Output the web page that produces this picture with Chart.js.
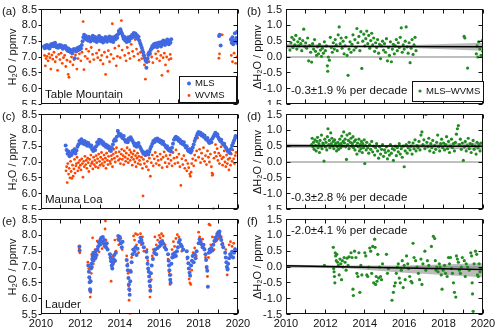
<!DOCTYPE html>
<html><head><meta charset="utf-8">
<script src="https://cdn.jsdelivr.net/npm/chart.js@4.4.1/dist/chart.umd.min.js"></script>
<style>
html,body{margin:0;padding:0;background:#fff;overflow:hidden;}
canvas{position:absolute;}
</style>
</head><body>
<canvas id="pa" width="252" height="105" style="left:0;top:0"></canvas>
<canvas id="pb" width="250" height="105" style="left:245px;top:0"></canvas>
<canvas id="pc" width="252" height="105" style="left:0;top:105px"></canvas>
<canvas id="pd" width="250" height="105" style="left:245px;top:105px"></canvas>
<canvas id="pe" width="252" height="126" style="left:0;top:210px"></canvas>
<canvas id="pf" width="250" height="126" style="left:245px;top:210px"></canvas>
<script>
// ---------- tick values / labels ----------
const xTickYears = [2010,2011,2012,2013,2014,2015,2016,2017,2018,2019,2020];
const xTickLabels = ['2010','2012','2014','2016','2018','2020'];
const h2oTicks = [5.5,6.0,6.5,7.0,7.5,8.0,8.5];
const h2oLabels = ['5.5','6.0','6.5','7.0','7.5','8.0','8.5'];
const diffTicks = [-1.5,-1.0,-0.5,0.0,0.5,1.0,1.5];
const diffLabels = ['-1.5','-1.0','-0.5','0.0','0.5','1.0','1.5'];

// ---------- (a) Table Mountain ----------
const tmMls = [[2010.15,7.33],[2010.19,7.28],[2010.23,7.36],[2010.27,7.31],[2010.31,7.38],[2010.35,7.30],[2010.39,7.35],[2010.43,7.27],[2010.47,7.33],[2010.51,7.40],[2010.55,7.36],[2010.59,7.42],[2010.63,7.34],[2010.67,7.39],[2010.71,7.45],[2010.75,7.37],[2010.79,7.31],[2010.83,7.36],[2010.87,7.29],[2010.91,7.34],[2010.95,7.38],[2010.99,7.32],
[2011.03,7.36],[2011.07,7.30],[2011.11,7.26],[2011.15,7.33],[2011.19,7.29],[2011.23,7.35],[2011.27,7.31],[2011.31,7.24],[2011.35,7.20],[2011.39,7.27],[2011.43,7.18],[2011.47,7.23],[2011.51,7.15],[2011.55,7.21],[2011.59,7.12],[2011.63,7.19],[2011.67,7.25],[2011.71,6.96],[2011.75,7.22],[2011.79,7.17],[2011.83,7.28],[2011.87,7.21],[2011.91,7.30],[2011.95,7.24],[2011.99,7.32],
[2012.03,7.27],[2012.07,7.38],[2012.11,7.50],[2012.15,7.62],[2012.19,7.70],[2012.23,7.58],[2012.27,7.66],[2012.31,7.55],[2012.35,7.61],[2012.39,7.52],[2012.43,7.64],[2012.47,7.57],[2012.51,7.49],[2012.55,7.60],[2012.59,7.54],[2012.63,7.67],[2012.67,7.58],[2012.71,7.51],[2012.75,7.63],[2012.79,7.56],[2012.83,7.47],[2012.87,7.59],[2012.91,7.53],[2012.95,7.66],[2012.99,7.57],
[2013.03,7.50],[2013.07,7.61],[2013.11,7.55],[2013.15,7.46],[2013.19,7.58],[2013.23,7.52],[2013.27,7.63],[2013.31,7.56],[2013.35,7.48],[2013.39,7.60],[2013.43,7.54],[2013.47,7.65],[2013.51,7.57],[2013.55,7.50],[2013.59,7.62],[2013.63,7.55],[2013.67,7.47],[2013.71,7.58],[2013.75,7.64],[2013.79,7.56],[2013.83,7.68],[2013.87,7.61],[2013.91,7.72],[2013.95,7.82],[2013.99,7.76],
[2014.03,7.88],[2014.07,7.80],[2014.11,7.74],[2014.15,7.66],[2014.19,7.58],[2014.23,7.64],[2014.27,7.52],[2014.31,7.59],[2014.35,7.47],[2014.39,7.55],[2014.43,7.62],[2014.47,7.50],[2014.51,7.57],[2014.55,7.65],[2014.59,7.60],[2014.63,7.70],[2014.67,7.63],[2014.71,7.76],[2014.75,7.68],[2014.79,7.74],[2014.83,7.62],[2014.87,7.69],[2014.91,7.58],[2014.95,7.64],[2014.99,7.52],
[2015.03,7.44],[2015.07,7.38],[2015.11,7.30],[2015.15,7.22],[2015.19,7.14],[2015.23,7.05],[2015.27,6.96],[2015.31,6.88],[2015.35,6.66],[2015.37,6.84],[2015.41,6.95],[2015.45,7.06],[2015.49,7.15],[2015.53,7.10],[2015.57,7.22],[2015.61,7.28],[2015.65,7.35],[2015.69,7.30],[2015.73,7.40],[2015.77,7.34],[2015.81,7.43],[2015.85,7.37],[2015.89,7.31],[2015.93,7.44],[2015.97,7.38],
[2016.01,7.46],[2016.05,7.40],[2016.09,7.33],[2016.13,7.47],[2016.17,7.41],[2016.21,7.52],[2016.25,7.45],[2016.29,7.38],[2016.33,7.49],[2016.37,7.43],[2016.41,7.55],[2016.45,7.47],[2016.49,7.40],[2016.53,7.51],[2016.57,7.45],[2016.61,7.56],
[2019.04,7.66],[2019.07,7.70],[2019.12,7.36],[2019.64,7.55],[2019.68,7.45],[2019.72,7.62],[2019.76,7.40],[2019.80,7.52],[2019.84,7.75],[2019.88,7.48],[2019.92,7.60],[2019.96,7.80],[2019.99,7.43]];

const tmWvms = [[2010.18,7.05],[2010.22,6.72],[2010.26,6.95],[2010.30,7.02],[2010.36,6.88],[2010.40,7.10],[2010.45,6.98],[2010.50,6.62],[2010.55,7.06],[2010.60,6.93],[2010.66,7.15],[2010.72,6.85],[2010.78,7.00],[2010.84,6.58],[2010.90,7.08],[2010.96,6.92],
[2011.02,7.12],[2011.08,6.80],[2011.14,6.98],[2011.20,7.05],[2011.26,6.70],[2011.32,6.90],[2011.38,6.45],[2011.42,6.36],[2011.48,6.85],[2011.55,7.00],[2011.62,6.75],[2011.68,6.92],[2011.75,7.06],[2011.82,6.62],[2011.88,6.95],[2011.95,7.10],
[2012.02,6.88],[2012.08,7.15],[2012.14,8.12],[2012.18,6.60],[2012.24,7.02],[2012.30,7.25],[2012.36,6.95],[2012.42,7.18],[2012.48,6.85],[2012.55,7.30],[2012.62,7.08],[2012.68,6.92],[2012.75,7.50],[2012.82,7.12],[2012.88,6.98],[2012.95,7.22],
[2013.02,6.90],[2013.08,7.05],[2013.15,6.78],[2013.22,7.15],[2013.28,6.45],[2013.35,7.00],[2013.42,7.20],[2013.48,6.85],[2013.55,7.08],[2013.62,8.05],[2013.68,6.95],[2013.75,7.28],[2013.82,6.72],[2013.88,7.02],[2013.95,7.35],
[2014.02,6.98],[2014.08,8.15],[2014.12,7.22],[2014.18,7.65],[2014.25,7.05],[2014.32,6.88],[2014.38,7.30],[2014.45,7.12],[2014.52,6.95],[2014.58,7.40],[2014.65,7.18],[2014.72,7.02],[2014.78,7.55],[2014.85,7.25],[2014.92,7.10],[2014.98,6.90],
[2015.05,7.15],[2015.12,6.95],[2015.18,7.05],[2015.25,6.75],[2015.30,6.30],[2015.36,6.92],[2015.42,7.10],[2015.48,6.85],[2015.55,7.22],[2015.62,7.00],[2015.68,6.82],[2015.75,7.40],[2015.82,7.10],[2015.88,6.95],[2015.95,7.18],
[2016.02,6.88],[2016.08,7.05],[2016.14,6.42],[2016.20,6.98],[2016.26,7.12],[2016.32,6.75],[2016.38,7.00],[2016.44,6.55],[2016.50,6.92],[2016.56,7.08],[2016.60,6.95],
[2019.03,6.96],[2019.06,7.10],[2019.20,7.70],[2019.66,7.05],[2019.72,6.85],[2019.80,7.12],[2019.88,6.80],[2019.95,7.00]];

// ---------- (b) Table Mountain difference ----------
const tmDiff = [[2010.20,0.22],[2010.25,0.45],[2010.30,0.62],[2010.35,0.30],[2010.40,0.55],[2010.45,0.38],[2010.50,0.68],[2010.55,0.25],[2010.60,0.48],[2010.65,0.35],[2010.70,0.58],[2010.75,0.42],[2010.80,0.20],[2010.85,0.52],[2010.90,0.88],[2010.95,0.33],
[2011.00,0.45],[2011.05,0.28],[2011.10,0.60],[2011.15,-0.12],[2011.20,0.36],[2011.25,0.15],[2011.30,-0.16],[2011.35,0.42],[2011.40,0.25],[2011.45,0.55],[2011.50,0.18],[2011.55,0.05],[2011.60,0.32],[2011.65,0.10],[2011.70,0.40],[2011.75,0.22],[2011.80,0.02],[2011.85,0.28],[2011.90,0.12],[2011.95,0.48],
[2012.00,0.20],[2012.05,0.35],[2012.10,-0.28],[2012.12,-0.45],[2012.15,0.00],[2012.20,-0.10],[2012.25,0.62],[2012.30,0.30],[2012.35,0.15],[2012.40,0.45],[2012.45,0.25],[2012.50,0.55],[2012.55,0.38],[2012.60,0.20],[2012.65,0.70],[2012.70,0.95],[2012.75,0.42],[2012.80,0.60],[2012.85,0.28],[2012.90,0.50],[2012.95,0.10],
[2013.00,0.35],[2013.05,0.62],[2013.10,0.05],[2013.15,-0.58],[2013.20,0.25],[2013.25,0.48],[2013.30,0.15],[2013.35,0.40],[2013.40,0.70],[2013.45,0.22],[2013.50,0.55],[2013.55,0.30],[2013.60,0.90],[2013.65,0.45],[2013.70,0.65],[2013.75,0.20],[2013.80,0.80],[2013.85,-0.36],[2013.90,0.50],[2013.95,0.72],
[2014.00,0.35],[2014.05,0.58],[2014.10,0.82],[2014.15,0.42],[2014.20,0.68],[2014.25,0.28],[2014.30,0.52],[2014.35,0.75],[2014.40,0.38],[2014.45,0.60],[2014.50,0.18],[2014.55,0.45],[2014.60,0.30],[2014.65,0.55],[2014.70,0.12],[2014.75,0.40],[2014.80,-0.05],[2014.85,0.35],[2014.90,0.50],[2014.95,0.22],
[2015.00,0.42],[2015.05,0.15],[2015.10,0.58],[2015.15,-0.12],[2015.20,0.30],[2015.25,0.05],[2015.30,0.48],[2015.35,-0.15],[2015.40,0.25],[2015.45,0.40],[2015.50,0.10],[2015.55,0.35],[2015.60,0.55],[2015.65,0.20],[2015.70,0.45],[2015.75,0.30],[2015.80,0.62],[2015.85,0.92],[2015.90,0.15],[2015.95,0.38],
[2016.00,0.25],[2016.05,0.50],[2016.10,0.95],[2016.15,0.32],[2016.20,0.12],[2016.25,0.45],[2016.30,-0.18],[2016.35,0.28],[2016.40,0.55],[2016.45,0.08],[2016.50,0.38],[2016.55,0.62],[2016.60,0.20],
[2019.04,0.65],[2019.08,0.60],[2019.22,-0.35],[2019.66,0.10],[2019.70,0.35],[2019.74,0.00],[2019.78,0.48],[2019.84,0.25],[2019.90,0.05],[2019.96,0.52],[2019.99,0.18]];
const tmTrend = [[2010,0.34],[2020,0.32]];
const tmBandHi = [[2010,0.42],[2013.5,0.36],[2016,0.37],[2020,0.45]];
const tmBandLo = [[2010,0.26],[2013.5,0.31],[2016,0.29],[2020,0.20]];

// ---------- (c) Mauna Loa ----------
const mlMls = [[2011.25,7.52],[2011.30,7.38],[2011.35,7.26],[2011.40,7.33],[2011.45,7.18],[2011.50,7.26],[2011.55,7.22],[2011.60,7.35],[2011.65,7.30],[2011.70,7.40],[2011.75,7.27],[2011.80,7.36],[2011.85,7.48],[2011.90,7.55],[2011.95,7.66],
[2012.00,7.60],[2012.05,7.72],[2012.10,7.63],[2012.15,7.58],[2012.20,7.66],[2012.25,7.55],[2012.30,7.62],[2012.35,7.51],[2012.40,7.60],[2012.45,7.54],[2012.50,7.48],[2012.55,7.52],[2012.60,7.40],[2012.65,7.35],[2012.70,7.44],[2012.75,7.38],[2012.80,7.50],[2012.85,7.62],[2012.90,7.57],[2012.95,7.70],
[2013.00,7.64],[2013.05,7.68],[2013.10,7.58],[2013.15,7.62],[2013.20,7.52],[2013.25,7.56],[2013.30,7.47],[2013.35,7.53],[2013.40,7.44],[2013.45,7.49],[2013.50,7.40],[2013.55,7.35],[2013.60,7.44],[2013.65,7.55],[2013.70,7.66],[2013.75,7.72],[2013.80,7.68],[2013.85,7.80],[2013.90,7.98],[2013.95,7.90],
[2014.00,7.84],[2014.05,7.88],[2014.10,7.80],[2014.15,7.75],[2014.20,7.82],[2014.25,7.70],[2014.30,7.64],[2014.35,7.68],[2014.40,7.62],[2014.45,7.74],[2014.50,7.70],[2014.55,7.78],[2014.60,7.72],[2014.65,7.66],[2014.70,7.60],[2014.75,7.52],[2014.80,7.58],[2014.85,7.48],[2014.90,7.55],[2014.95,7.60],
[2015.00,7.50],[2015.05,7.44],[2015.10,7.38],[2015.15,7.32],[2015.20,7.26],[2015.25,7.30],[2015.30,7.22],[2015.35,7.28],[2015.40,7.34],[2015.45,7.24],[2015.50,7.32],[2015.55,7.42],[2015.60,7.50],[2015.65,7.58],[2015.70,7.66],[2015.75,7.62],[2015.80,7.72],[2015.85,7.68],[2015.90,7.74],[2015.95,7.66],
[2016.00,7.70],[2016.05,7.62],[2016.10,7.67],[2016.15,7.58],[2016.20,7.64],[2016.25,7.55],[2016.30,7.52],[2016.35,7.46],[2016.40,7.50],[2016.45,7.40],[2016.50,7.36],[2016.55,7.42],[2016.60,7.33],[2016.65,7.45],[2016.70,7.58],[2016.75,7.70],[2016.80,7.76],[2016.85,7.80],[2016.90,7.72],[2016.95,7.76],
[2017.00,7.66],[2017.05,7.70],[2017.10,7.60],[2017.15,7.64],[2017.20,7.56],[2017.25,7.62],[2017.30,7.52],[2017.35,7.46],[2017.40,7.50],[2017.45,7.38],[2017.50,7.34],[2017.55,7.40],[2017.60,7.30],[2017.65,7.36],[2017.70,7.46],[2017.75,7.55],[2017.80,7.66],[2017.85,7.74],[2017.90,7.82],[2017.95,7.90],
[2018.00,7.95],[2018.05,7.88],[2018.10,7.92],[2018.15,7.84],[2018.20,7.88],[2018.25,7.80],[2018.30,7.84],[2018.35,7.74],[2018.40,7.70],[2018.45,7.76],[2018.50,7.64],[2018.55,7.60],[2018.60,7.68],[2018.65,7.62],[2018.70,7.74],[2018.75,7.80],[2018.80,7.86],[2018.85,7.92],[2018.90,7.84],[2018.95,7.88],
[2019.00,7.78],[2019.05,7.72],[2019.10,7.66],[2019.15,7.70],[2019.20,7.60],[2019.25,7.55],[2019.30,7.58],[2019.35,7.48],[2019.40,7.44],[2019.45,7.38],[2019.50,7.32],[2019.55,7.36],[2019.60,7.28],[2019.65,7.42],[2019.70,7.52],[2019.75,7.60],[2019.80,7.68],[2019.85,7.76],[2019.88,7.82]];

const mlWvms = [[2011.27,6.72],[2011.30,6.85],[2011.33,6.35],[2011.36,6.95],[2011.40,6.62],[2011.43,6.80],[2011.47,6.50],[2011.50,7.02],[2011.53,6.70],[2011.57,6.48],[2011.60,6.90],[2011.63,6.55],[2011.67,6.78],[2011.70,7.08],[2011.73,6.65],[2011.77,6.88],[2011.80,6.95],[2011.83,7.15],[2011.87,6.72],[2011.90,6.98],[2011.93,6.82],[2011.97,7.05],
[2012.00,6.90],[2012.03,6.75],[2012.07,7.10],[2012.10,6.95],[2012.13,6.52],[2012.17,7.02],[2012.20,6.85],[2012.23,7.18],[2012.27,6.92],[2012.30,7.05],[2012.33,6.80],[2012.37,7.12],[2012.40,6.98],[2012.43,6.70],[2012.47,7.08],[2012.50,6.88],[2012.53,7.22],[2012.57,6.95],[2012.60,7.00],[2012.63,6.78],[2012.67,7.15],[2012.70,6.92],[2012.73,7.05],[2012.77,6.85],[2012.80,7.20],[2012.83,6.98],[2012.87,7.10],[2012.90,6.82],[2012.93,7.25],[2012.97,7.02],
[2013.00,6.90],[2013.03,7.15],[2013.07,7.30],[2013.10,6.95],[2013.13,7.08],[2013.17,6.88],[2013.20,7.22],[2013.23,7.00],[2013.27,7.12],[2013.30,6.80],[2013.33,7.28],[2013.37,7.05],[2013.40,6.92],[2013.43,7.18],[2013.47,7.35],[2013.50,7.02],[2013.53,6.95],[2013.57,7.20],[2013.60,7.08],[2013.63,6.85],[2013.67,7.25],[2013.70,7.40],[2013.73,7.12],[2013.77,7.00],[2013.80,7.30],[2013.83,7.45],[2013.87,7.18],[2013.90,8.00],[2013.93,7.05],[2013.97,7.32],
[2014.00,7.10],[2014.03,6.95],[2014.07,7.25],[2014.10,7.40],[2014.13,7.08],[2014.17,7.20],[2014.20,6.92],[2014.23,7.35],[2014.27,7.15],[2014.30,7.02],[2014.33,7.28],[2014.37,7.45],[2014.40,7.10],[2014.43,6.98],[2014.47,7.22],[2014.50,7.38],[2014.53,7.05],[2014.57,7.30],[2014.60,7.15],[2014.63,6.90],[2014.67,7.25],[2014.70,7.08],[2014.73,7.35],[2014.77,7.00],[2014.80,7.20],[2014.83,6.85],[2014.87,7.12],[2014.90,7.28],[2014.93,6.95],[2014.97,7.18],
[2015.00,7.05],[2015.05,6.92],[2015.10,7.15],[2015.15,6.80],[2015.18,5.93],[2015.20,7.08],[2015.25,6.95],[2015.30,7.20],[2015.35,6.85],[2015.40,7.02],[2015.45,6.75],[2015.50,7.12],[2015.55,6.55],[2015.60,6.98],[2015.65,7.22],[2015.70,6.88],[2015.75,7.10],[2015.80,7.30],[2015.85,6.95],[2015.90,7.18],[2015.95,7.05],
[2016.00,6.90],[2016.05,7.25],[2016.10,7.08],[2016.15,6.82],[2016.20,7.15],[2016.25,7.32],[2016.30,6.98],[2016.35,7.20],[2016.40,6.85],[2016.45,7.10],[2016.50,6.95],[2016.55,7.22],[2016.60,7.05],[2016.65,6.88],[2016.70,7.30],[2016.75,7.12],[2016.80,6.95],[2016.85,7.38],[2016.90,7.15],[2016.95,6.98],
[2017.00,7.25],[2017.05,6.85],[2017.10,6.26],[2017.15,7.10],[2017.20,6.92],[2017.25,7.20],[2017.30,6.80],[2017.35,7.05],[2017.40,6.72],[2017.45,6.95],[2017.50,6.82],[2017.55,6.62],[2017.58,6.55],[2017.62,6.68],[2017.65,6.95],[2017.70,7.10],[2017.75,6.88],[2017.80,7.22],[2017.85,7.05],[2017.90,7.35],[2017.95,7.76],
[2018.00,7.15],[2018.05,7.40],[2018.10,6.98],[2018.15,7.28],[2018.20,7.10],[2018.25,7.45],[2018.30,7.02],[2018.35,7.20],[2018.40,6.92],[2018.45,7.35],[2018.50,7.15],[2018.55,7.00],[2018.60,7.25],[2018.65,6.85],[2018.68,6.65],[2018.70,6.58],[2018.72,6.62],[2018.75,5.52],[2018.78,7.12],[2018.82,7.30],[2018.86,7.55],[2018.90,7.18],[2018.94,7.42],[2018.98,7.05],
[2019.02,7.28],[2019.06,6.95],[2019.10,7.20],[2019.14,7.48],[2019.18,7.10],[2019.22,6.90],[2019.26,7.15],[2019.30,7.35],[2019.34,7.00],[2019.38,6.85],[2019.42,7.22],[2019.46,6.95],[2019.50,7.08],[2019.54,6.75],[2019.58,7.12],[2019.62,6.90],[2019.66,7.25],[2019.70,7.02],[2019.74,7.38],[2019.78,7.10],[2019.82,6.95],[2019.86,7.20],[2019.90,7.30]];

// ---------- (d) Mauna Loa difference ----------
const mlDiff = [[2011.30,0.55],[2011.33,0.75],[2011.37,0.48],[2011.40,0.62],[2011.43,0.40],[2011.47,0.70],[2011.50,0.52],[2011.53,0.35],[2011.57,0.65],[2011.60,0.78],[2011.63,0.45],[2011.67,0.58],[2011.70,0.30],[2011.73,0.68],[2011.77,0.50],[2011.80,0.85],[2011.83,0.42],[2011.87,0.60],[2011.90,0.55],[2011.93,0.03],[2011.97,0.72],
[2012.00,0.48],[2012.03,0.62],[2012.07,0.38],[2012.10,0.80],[2012.13,1.05],[2012.17,0.55],[2012.20,0.68],[2012.23,0.45],[2012.27,0.92],[2012.30,0.58],[2012.33,0.75],[2012.37,0.50],[2012.40,0.65],[2012.43,0.42],[2012.47,0.70],[2012.50,0.55],[2012.53,0.60],[2012.57,0.35],[2012.60,0.48],[2012.63,0.62],[2012.67,0.40],[2012.70,0.55],[2012.73,0.72],[2012.77,0.45],[2012.80,0.58],[2012.83,0.82],[2012.87,0.50],[2012.90,0.65],[2012.93,0.95],[2012.97,0.60],
[2013.00,0.72],[2013.03,0.48],[2013.07,0.08],[2013.10,0.85],[2013.13,0.55],[2013.17,0.68],[2013.20,0.42],[2013.23,0.90],[2013.27,0.62],[2013.30,0.75],[2013.33,0.50],[2013.37,0.58],[2013.40,0.80],[2013.43,0.45],[2013.47,0.65],[2013.50,0.38],[2013.53,0.70],[2013.57,0.52],[2013.60,0.25],[2013.63,0.60],[2013.67,0.48],[2013.70,0.72],[2013.73,0.35],[2013.77,0.55],[2013.80,0.42],[2013.83,0.65],[2013.87,0.30],[2013.90,0.58],[2013.93,0.45],[2013.97,0.70],
[2014.00,-0.05],[2014.03,0.52],[2014.07,0.38],[2014.10,0.62],[2014.15,0.45],[2014.20,0.28],[2014.25,0.55],[2014.30,0.40],[2014.35,0.65],[2014.40,0.32],[2014.45,0.50],[2014.50,0.22],[2014.55,0.45],[2014.60,0.58],[2014.65,0.35],[2014.70,0.12],[2014.75,0.48],[2014.80,0.25],[2014.85,0.40],[2014.90,0.55],[2014.95,0.18],
[2015.00,0.38],[2015.05,0.30],[2015.10,0.48],[2015.15,0.10],[2015.20,0.35],[2015.25,0.22],[2015.30,0.55],[2015.35,0.28],[2015.40,0.42],[2015.45,0.05],[2015.50,0.38],[2015.55,0.50],[2015.60,0.20],[2015.65,0.45],[2015.70,0.32],[2015.75,0.58],[2015.80,0.25],[2015.85,0.42],[2015.90,0.15],[2015.95,0.50],
[2016.00,-0.15],[2016.05,0.35],[2016.10,0.55],[2016.15,0.28],[2016.20,0.45],[2016.25,0.62],[2016.30,0.38],[2016.35,0.50],[2016.40,0.25],[2016.45,0.60],[2016.50,0.42],[2016.55,0.70],[2016.60,0.35],[2016.65,0.52],[2016.70,0.45],[2016.75,0.65],[2016.80,0.38],[2016.85,0.85],[2016.90,0.95],[2016.95,0.55],
[2017.00,0.70],[2017.05,0.42],[2017.10,1.50],[2017.15,0.62],[2017.20,0.48],[2017.25,0.75],[2017.30,0.35],[2017.35,0.58],[2017.40,0.45],[2017.45,0.68],[2017.50,0.30],[2017.55,0.52],[2017.60,0.40],[2017.65,0.62],[2017.70,0.85],[2017.75,0.48],[2017.80,0.35],[2017.85,0.58],[2017.90,0.72],[2017.95,0.45],
[2018.00,0.60],[2018.05,0.38],[2018.10,0.55],[2018.15,0.80],[2018.20,0.42],[2018.25,0.65],[2018.30,0.30],[2018.35,0.50],[2018.40,0.72],[2018.45,0.45],[2018.50,0.58],[2018.55,0.35],[2018.60,0.62],[2018.65,0.88],[2018.70,1.05],[2018.75,1.15],[2018.80,0.55],[2018.85,0.72],[2018.90,0.40],[2018.95,0.60],
[2019.00,0.05],[2019.05,0.48],[2019.10,0.65],[2019.15,0.35],[2019.20,0.52],[2019.25,0.75],[2019.30,0.42],[2019.35,0.58],[2019.40,0.30],[2019.45,0.55],[2019.50,0.68],[2019.55,0.40],[2019.60,0.50],[2019.65,0.25],[2019.70,0.62],[2019.75,0.45],[2019.80,0.55],[2019.85,0.35],[2019.90,0.60]];
const mlTrend = [[2010,0.51],[2020,0.50]];
const mlBandHi = [[2010,0.58],[2015,0.53],[2020,0.62]];
const mlBandLo = [[2010,0.44],[2015,0.47],[2020,0.39]];

// ---------- (e) Lauder ----------
const ldMls = [[2011.95,7.65],[2011.96,7.52],
[2012.40,7.05],[2012.43,6.85],[2012.45,6.68],[2012.47,6.52],[2012.49,6.30],[2012.50,6.25],[2012.52,6.55],[2012.54,6.95],[2012.56,7.10],[2012.58,7.00],[2012.60,7.25],[2012.62,7.35],[2012.64,7.20],[2012.66,7.45],[2012.69,7.30],[2012.72,7.40],[2012.75,7.28],[2012.78,7.50],[2012.82,7.38],[2012.86,7.55],[2012.90,7.65],[2012.94,7.78],[2012.98,7.70],[2013.02,7.85],[2013.06,7.92],[2013.10,7.80],[2013.14,7.95],[2013.18,7.75],[2013.22,7.85],[2013.26,7.68],[2013.30,7.62],[2013.34,7.75],[2013.38,7.55],
[2013.50,7.40],[2013.53,7.30],[2013.56,7.18],[2013.59,7.05],[2013.62,6.95],[2013.65,7.10],[2013.68,7.25],[2013.72,7.38],[2013.76,7.20],[2013.80,7.45],
[2013.92,7.98],[2013.96,7.85],[2014.00,7.95],[2014.05,7.75],[2014.10,7.62],[2014.14,7.80],
[2014.35,7.22],[2014.38,7.05],[2014.41,6.90],[2014.44,6.65],[2014.46,6.45],[2014.48,6.30],[2014.50,6.12],[2014.53,6.55],[2014.56,6.85],[2014.60,7.15],[2014.65,7.40],[2014.70,7.55],[2014.75,7.48],[2014.80,7.62],[2014.85,7.38],[2014.90,7.58],
[2015.00,7.80],[2015.05,7.92],[2015.10,7.85],[2015.15,7.75],[2015.22,7.62],
[2015.35,7.48],[2015.38,7.30],[2015.41,7.10],[2015.44,6.95],[2015.47,6.85],[2015.49,6.70],[2015.51,6.55],[2015.53,6.40],[2015.55,6.25],[2015.58,6.80],[2015.62,7.05],[2015.68,7.25],[2015.75,7.45],[2015.80,7.55],[2015.85,7.40],[2015.92,7.60],
[2016.00,7.65],[2016.05,7.78],[2016.10,7.70],[2016.15,7.82],[2016.20,7.75],[2016.28,7.62],[2016.35,7.55],
[2016.45,7.40],[2016.48,7.20],[2016.50,7.05],[2016.52,6.90],[2016.54,6.75],[2016.56,6.60],[2016.58,6.50],[2016.62,7.10],[2016.66,7.30],[2016.70,7.40],[2016.75,7.32],[2016.80,7.45],[2016.85,7.35],[2016.90,7.50],[2016.95,7.62],
[2017.00,7.78],[2017.05,7.85],[2017.10,7.70],[2017.15,7.65],[2017.22,7.55],
[2017.40,7.50],[2017.44,7.30],[2017.48,7.12],[2017.51,6.95],[2017.54,6.82],[2017.57,6.72],[2017.62,7.05],[2017.66,7.20],[2017.70,7.35],[2017.75,7.15],[2017.80,7.40],[2017.85,7.28],[2017.90,7.50],
[2018.00,7.75],[2018.05,7.88],[2018.10,7.80],[2018.15,7.72],[2018.20,7.62],[2018.25,7.70],[2018.30,7.55],[2018.35,7.40],[2018.38,7.22],[2018.41,7.00],[2018.44,6.88],[2018.47,6.38],[2018.52,7.45],[2018.56,7.55],[2018.60,7.48],[2018.65,7.60],[2018.70,7.52],[2018.75,7.70],[2018.80,7.82],[2018.85,7.92],[2018.90,7.85],[2018.95,8.00],
[2019.00,8.10],[2019.03,8.05],[2019.06,8.12],[2019.10,7.95],[2019.15,7.85],[2019.20,7.72],[2019.25,7.62],
[2019.35,7.45],[2019.38,7.30],[2019.41,7.15],[2019.44,7.00],[2019.47,6.92],[2019.50,7.10],[2019.55,7.28],[2019.60,7.40],[2019.65,7.35],[2019.70,7.48],[2019.75,7.30],[2019.80,7.45],[2019.85,7.55]];

const ldWvms = [[2011.94,7.58],[2011.97,7.45],
[2012.38,7.15],[2012.42,6.95],[2012.45,7.02],[2012.48,6.62],[2012.50,6.05],[2012.52,6.20],[2012.55,6.80],[2012.58,7.40],[2012.62,7.92],[2012.66,7.10],[2012.70,7.20],[2012.75,7.55],[2012.80,7.30],[2012.85,7.82],[2012.90,7.60],[2012.95,7.48],
[2013.00,7.88],[2013.05,7.70],[2013.10,7.58],[2013.15,7.82],[2013.20,7.65],[2013.25,8.20],[2013.27,8.45],[2013.30,7.85],[2013.35,7.60],
[2013.52,7.25],[2013.56,6.55],[2013.60,7.00],[2013.65,7.35],[2013.70,7.15],[2013.75,7.85],[2013.80,7.50],
[2013.90,7.88],[2013.95,7.70],[2014.05,7.90],[2014.12,7.55],
[2014.35,7.35],[2014.40,7.10],[2014.42,6.80],[2014.45,6.40],[2014.47,5.95],[2014.50,6.25],[2014.52,5.50],[2014.55,6.90],[2014.60,7.30],[2014.65,7.55],[2014.70,7.98],[2014.75,7.85],[2014.80,8.05],[2014.85,7.70],[2014.90,8.02],[2014.95,7.45],
[2015.05,8.05],[2015.10,7.70],[2015.15,7.95],[2015.22,7.50],
[2015.38,7.55],[2015.42,7.20],[2015.46,6.85],[2015.50,6.70],[2015.53,6.05],[2015.56,6.35],[2015.60,6.60],[2015.65,7.35],[2015.70,7.55],[2015.78,7.95],[2015.85,7.70],[2015.92,7.85],
[2016.00,8.00],[2016.05,7.92],[2016.12,8.05],[2016.20,7.98],[2016.30,7.70],
[2016.45,7.25],[2016.50,6.85],[2016.55,6.45],[2016.60,6.75],[2016.65,7.55],[2016.72,7.80],[2016.78,7.65],[2016.85,7.90],[2016.92,8.02],
[2017.00,7.95],[2017.08,7.72],[2017.15,7.50],
[2017.42,7.25],[2017.48,6.95],[2017.52,6.62],[2017.56,6.50],[2017.60,6.45],[2017.65,6.90],[2017.72,7.45],[2017.80,7.60],[2017.88,7.35],
[2018.00,8.10],[2018.05,7.95],[2018.12,7.75],[2018.20,7.88],[2018.28,7.60],[2018.35,7.30],[2018.42,6.95],[2018.45,6.70],[2018.50,7.30],[2018.53,8.35],[2018.58,8.32],[2018.62,7.70],[2018.70,7.95],[2018.78,7.55],[2018.85,7.80],[2018.92,8.05],
[2019.00,7.90],[2019.08,8.02],[2019.15,7.95],[2019.22,7.75],
[2019.38,7.55],[2019.42,7.00],[2019.45,6.75],[2019.50,6.95],[2019.55,7.70],[2019.62,7.80],[2019.70,7.65],[2019.78,7.75],[2019.85,7.58]];

// ---------- (f) Lauder difference ----------
const ldDiff = [[2011.95,0.05],
[2012.40,0.62],[2012.42,-0.05],[2012.44,-0.15],[2012.46,-0.30],[2012.48,-0.50],[2012.50,0.45],[2012.52,0.35],[2012.55,0.20],[2012.58,0.40],[2012.62,0.15],[2012.66,0.05],[2012.70,-0.25],[2012.74,0.25],[2012.78,0.10],[2012.82,-0.40],[2012.86,0.20],[2012.90,0.00],[2012.95,0.30],
[2013.00,0.15],[2013.05,-0.10],[2013.10,0.28],[2013.15,0.05],[2013.20,0.32],[2013.30,0.45],[2013.35,0.30],[2013.40,-0.70],[2013.42,-0.90],[2013.48,0.50],[2013.55,0.30],[2013.60,-0.20],[2013.65,-0.30],[2013.70,0.45],[2013.75,-0.80],[2013.80,0.05],[2013.85,-0.25],
[2014.00,0.45],[2014.05,0.35],[2014.10,-0.25],[2014.15,-0.30],[2014.20,0.00],[2014.25,0.60],[2014.30,0.50],[2014.35,-0.20],[2014.40,0.65],[2014.45,-0.50],[2014.50,0.88],[2014.52,0.62],[2014.55,-0.55],[2014.58,-0.30],[2014.62,-0.45],[2014.66,0.40],[2014.70,-0.35],[2014.75,0.00],[2014.80,-0.30],[2014.85,-0.40],[2014.90,0.10],
[2015.10,0.40],[2015.15,-0.20],[2015.20,-0.05],[2015.38,-1.05],[2015.45,-0.80],[2015.50,-0.60],[2015.55,-0.50],[2015.60,-0.20],[2015.65,0.00],[2015.70,0.10],[2015.75,-0.35],[2015.80,-0.50],[2015.85,-0.10],[2015.90,0.20],[2015.95,-0.65],
[2016.00,0.05],[2016.05,-0.40],[2016.12,0.35],[2016.18,0.10],[2016.22,-0.05],[2016.28,-0.30],[2016.35,-0.45],[2016.40,-0.50],[2016.45,0.75],[2016.50,0.30],[2016.58,0.20],[2016.65,0.00],[2016.72,-0.20],[2016.78,-0.40],[2016.85,0.25],[2016.90,-0.55],[2016.95,0.10],
[2017.05,0.50],[2017.10,-0.10],[2017.18,0.20],[2017.25,0.05],[2017.38,0.65],[2017.48,0.97],[2017.55,0.90],[2017.58,0.20],[2017.62,-0.10],[2017.65,0.00],[2017.72,-0.15],[2017.78,0.10],[2017.82,0.00],[2017.88,-0.25],[2017.92,-0.70],[2017.98,-0.10],
[2018.05,0.05],[2018.10,-0.20],[2018.18,-0.30],[2018.25,0.30],[2018.30,0.10],[2018.35,0.30],[2018.40,-0.05],[2018.45,-0.20],[2018.50,-0.50],[2018.55,-0.80],[2018.62,-0.95],[2018.65,0.35],[2018.70,0.25],[2018.75,0.15],[2018.80,-0.10],[2018.85,-0.20],[2018.90,0.00],[2018.95,0.30],
[2019.05,0.20],[2019.10,-0.30],[2019.15,0.10],[2019.22,0.00],[2019.30,-0.10],[2019.38,0.45],[2019.42,0.35],[2019.45,-0.50],[2019.47,-0.85],[2019.50,-1.40],[2019.55,0.10],[2019.62,0.50],[2019.68,0.40],[2019.72,-0.25],[2019.76,-0.30],[2019.80,0.10],[2019.85,-0.15],[2019.90,-0.05]];
const ldTrend = [[2010,0.04],[2020,-0.08]];
const ldBandHi = [[2010,0.07],[2013,0.05],[2016,0.05],[2020,0.12]];
const ldBandLo = [[2010,0.01],[2013,-0.04],[2016,-0.18],[2020,-0.32]];
const zeroLine = [[2010,0],[2020,0]];

// ---------- styling ----------
const FONT = '"Liberation Sans", Arial, Helvetica, sans-serif';
const BLUE = '#4169e1', RED = '#ff4500', GREEN = '#228b22';
const INK = '#111';

function pts(a){ return a.map(p => ({x:p[0], y:p[1]})); }
function dots(data, color, r, order){
  return {type:'scatter', data:pts(data), backgroundColor:color, borderWidth:0, pointRadius:r, pointHoverRadius:r, order};
}
function line(data, color, w, order, extra){
  return Object.assign({type:'line', data:pts(data), borderColor:color, borderWidth:w, pointRadius:0, fill:false, tension:0, order}, extra || {});
}
function band(hi, lo){
  return [
    line(hi, 'rgba(0,0,0,0)', 0, 3),
    line(lo, 'rgba(0,0,0,0)', 0, 3, {fill:'-1', backgroundColor:'rgba(120,120,120,0.5)'})
  ];
}

const f5 = v => Math.floor(v) + 0.5;
const deco = {
  id: 'deco',
  afterDraw(chart, args, o){
    const {ctx, chartArea:a} = chart;
    const xs = chart.scales.x, ys = chart.scales.y;
    const L = f5(a.left), R = f5(a.right) - 1, T = f5(a.top), B = f5(a.bottom) - 1;
    ctx.save();
    ctx.strokeStyle = INK; ctx.lineWidth = 1;
    ctx.strokeRect(L, T, R - L, B - T);
    ctx.beginPath();
    for (const t of xTickYears){
      const px = f5(xs.getPixelForValue(t));
      ctx.moveTo(px, T); ctx.lineTo(px, T + 4);
      ctx.moveTo(px, B); ctx.lineTo(px, B - 4);
    }
    for (const t of o.yTicks){
      const py = f5(ys.getPixelForValue(t));
      if (o.outTicks){ ctx.moveTo(L - 3, py); ctx.lineTo(L, py); }
      else { ctx.moveTo(L, py); ctx.lineTo(L + 4, py); }
      ctx.moveTo(R, py); ctx.lineTo(R - 4, py);
    }
    ctx.stroke();
    ctx.fillStyle = INK;
    ctx.textBaseline = 'middle'; ctx.textAlign = 'left';
    ctx.font = '11.5px ' + FONT;
    ctx.fillText(o.label, 2, 12);
    for (const n of (o.notes || [])) ctx.fillText(n.t, n.x, n.y);
    if (o.legend){
      const g = o.legend;
      ctx.fillStyle = '#fff';
      ctx.fillRect(g.box[0], g.box[1], g.box[2], g.box[3]);
      ctx.strokeStyle = INK;
      ctx.strokeRect(f5(g.box[0]), f5(g.box[1]), g.box[2], g.box[3]);
      ctx.font = '9.5px ' + FONT;
      for (const it of g.items){
        ctx.fillStyle = it.c;
        ctx.beginPath(); ctx.arc(it.x, it.y, it.r, 0, Math.PI*2); ctx.fill();
        ctx.fillStyle = INK;
        ctx.fillText(it.t, it.x + 6, it.y);
      }
    }
    ctx.restore();
  }
};

function panel(id, o){
  const right = o.col === 'right';
  const bottom = !!o.bottomRow;
  const yTicks = o.yTicks, yLabels = o.yLabels;
  o.deco.yTicks = yTicks;
  o.deco.outTicks = !right;
  new Chart(document.getElementById(id), {
    type: 'scatter',
    data: {datasets: o.datasets},
    options: {
      responsive: false, animation: false, events: [],
      layout: {autoPadding: false, padding: {top: 9.5, left: 0, right: right ? 12 : 14, bottom: bottom ? 0 : 0.5}},
      plugins: {legend: {display: false}, tooltip: {enabled: false}, deco: o.deco},
      scales: {
        x: {
          type: 'linear', min: 2010, max: 2020,
          grid: {display: false, drawTicks: false}, border: {display: false},
          ticks: {display: bottom, stepSize: 1, autoSkip: false, maxRotation: 0, minRotation: 0, padding: 3, color: INK,
            font: {size: 11, family: FONT},
            callback: v => xTickLabels.includes(String(v)) ? String(v) : ''},
          afterFit: s => { s.height = bottom ? 21.5 : 0; s.paddingLeft = 0; s.paddingRight = 0; }
        },
        y: {
          type: 'linear', min: o.yMin, max: o.yMax,
          grid: {display: false, drawTicks: false}, border: {display: false},
          ticks: {stepSize: 0.5, autoSkip: false, padding: 4, color: INK, font: {size: 11, family: FONT},
            callback: v => { const i = yTicks.findIndex(t => Math.abs(t - v) < 1e-6); return i >= 0 ? yLabels[i] : ''; }},
          title: {display: true, text: o.yTitle, color: INK, font: {size: 11, family: FONT}, padding: {top: 6, bottom: 0}},
          afterFit: s => { s.width = 41; s.paddingTop = 0; s.paddingBottom = 0; }
        }
      }
    },
    plugins: [deco]
  });
}

const H2O = 'H\u2082O / ppmv', DH2O = '\u0394H\u2082O / ppmv';

panel('pa', {col:'left', yMin:5.5, yMax:8.5, yTicks:h2oTicks, yLabels:h2oLabels, yTitle:H2O,
  datasets:[dots(tmMls, BLUE, 2.0, 1), dots(tmWvms, RED, 1.4, 2)],
  deco:{label:'(a)', notes:[{t:'Table Mountain', x:45, y:94.5}],
    legend:{box:[179,76,57,26], items:[{c:BLUE, r:2.0, t:'MLS', x:189, y:83.5},{c:RED, r:1.4, t:'WVMS', x:189, y:95.5}]}}});

panel('pb', {col:'right', yMin:-1.5, yMax:1.5, yTicks:diffTicks, yLabels:diffLabels, yTitle:DH2O,
  datasets:[line(tmTrend, '#000', 1.5, 0), dots(tmDiff, GREEN, 1.6, 1), ...band(tmBandHi, tmBandLo), line(zeroLine, '#aaa', 1.5, 5)],
  deco:{label:'(b)', notes:[{t:'-0.3\u00b11.9 % per decade', x:46, y:90.5}],
    legend:{box:[167,81,71,20], items:[{c:GREEN, r:1.6, t:'MLS\u2013WVMS', x:175, y:91}]}}});

panel('pc', {col:'left', yMin:5.5, yMax:8.5, yTicks:h2oTicks, yLabels:h2oLabels, yTitle:H2O,
  datasets:[dots(mlMls, BLUE, 2.0, 1), dots(mlWvms, RED, 1.4, 2)],
  deco:{label:'(c)', notes:[{t:'Mauna Loa', x:45, y:94.5}]}});

panel('pd', {col:'right', yMin:-1.5, yMax:1.5, yTicks:diffTicks, yLabels:diffLabels, yTitle:DH2O,
  datasets:[line(mlTrend, '#000', 1.5, 0), dots(mlDiff, GREEN, 1.6, 1), ...band(mlBandHi, mlBandLo), line(zeroLine, '#aaa', 1.5, 5)],
  deco:{label:'(d)', notes:[{t:'-0.3\u00b12.8 % per decade', x:46, y:92.5}]}});

panel('pe', {col:'left', bottomRow:true, yMin:5.5, yMax:8.5, yTicks:h2oTicks, yLabels:h2oLabels, yTitle:H2O,
  datasets:[dots(ldMls, BLUE, 2.0, 1), dots(ldWvms, RED, 1.4, 2)],
  deco:{label:'(e)', notes:[{t:'Lauder', x:45, y:94.5}]}});

panel('pf', {col:'right', bottomRow:true, yMin:-1.5, yMax:1.5, yTicks:diffTicks, yLabels:diffLabels, yTitle:DH2O,
  datasets:[line(ldTrend, '#000', 1.5, 0), dots(ldDiff, GREEN, 1.6, 1), ...band(ldBandHi, ldBandLo), line(zeroLine, '#aaa', 1.5, 5)],
  deco:{label:'(f)', notes:[{t:'-2.0\u00b14.1 % per decade', x:46, y:21}]}});
</script>
</body></html>
